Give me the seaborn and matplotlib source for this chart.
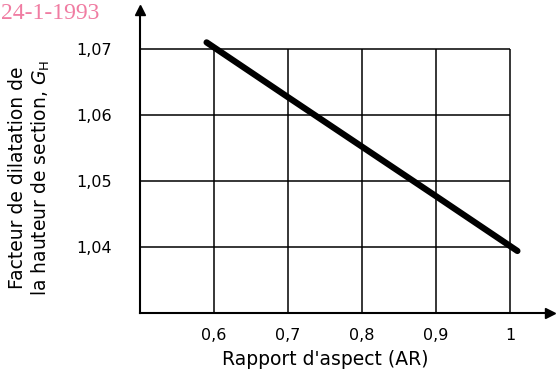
import numpy as np
import pandas as pd
import seaborn as sns
import matplotlib
matplotlib.use("Agg")
import matplotlib.pyplot as plt

# values
aspect_ratio = [0.59, 0.70, 0.80, 0.90, 1.01]
dilatation = [1.0710, 1.0627, 1.0552, 1.0477, 1.0394]
x_ticks = [0.6, 0.7, 0.8, 0.9, 1.0]
x_labels = ["0,6", "0,7", "0,8", "0,9", "1"]
y_ticks = [1.04, 1.05, 1.06, 1.07]
y_labels = ["1,04", "1,05", "1,06", "1,07"]
date_stamp = "24-1-1993"

df = pd.DataFrame({"AR": aspect_ratio, "GH": dilatation})

sns.set_style("white")
plt.rcParams["font.family"] = ["DejaVu Sans"]
plt.rcParams["text.color"] = "black"
plt.rcParams["xtick.color"] = "black"
plt.rcParams["ytick.color"] = "black"

fig = plt.figure(figsize=(5.56, 3.76), dpi=100)
ax = fig.add_axes([140 / 556, 63 / 376, 410 / 556, 303 / 376])

x0, x1 = 0.5, 0.5 + 410 / 740
y0, y1 = 1.03, 1.03 + 303 / 6600
ax.set_xlim(x0, x1)
ax.set_ylim(y0, y1)

# grid box
ax.hlines(y_ticks, x0, 1.0, color="black", lw=1.1, zorder=1)
ax.vlines(x_ticks, y0, 1.07, color="black", lw=1.1, zorder=1)

sns.lineplot(data=df, x="AR", y="GH", ax=ax, color="black", lw=4.5,
             solid_capstyle="round", zorder=3)

for s in ["top", "right"]:
    ax.spines[s].set_visible(False)
for s in ["left", "bottom"]:
    ax.spines[s].set_linewidth(1.5)
    ax.spines[s].set_color("black")

# arrow heads on axes
ax.plot(1, 0, ">", color="black", ms=7, transform=ax.transAxes, clip_on=False)
ax.plot(0, 1, "^", color="black", ms=7, transform=ax.transAxes, clip_on=False)

ax.set_xticks(x_ticks)
ax.set_xticklabels(x_labels, fontsize=11.5)
ax.set_yticks(y_ticks)
ax.set_yticklabels(y_labels, fontsize=11.5)
ax.tick_params(axis="x", length=0, pad=11)
ax.tick_params(axis="y", length=0, pad=20)
ax.set_xlabel("")
ax.set_ylabel("")

ax.text(0.75, 1.03 - 47 / 6600, "Rapport d'aspect (AR)", fontsize=13.5,
        ha="center", va="center")
fig.text(30 / 556, 1 - 178 / 376,
         "Facteur de dilatation de\nla hauteur de section, $\\it{G}_\\mathrm{H}$",
         rotation=90, fontsize=13.5, ha="center", va="center", linespacing=1.2)

fig.text(1 / 556, 1 - 19 / 376, date_stamp, fontsize=17, color="#f07ca2",
         family=["Liberation Serif", "DejaVu Serif"], ha="left", va="baseline")

fig.savefig("out.png", dpi=100)
